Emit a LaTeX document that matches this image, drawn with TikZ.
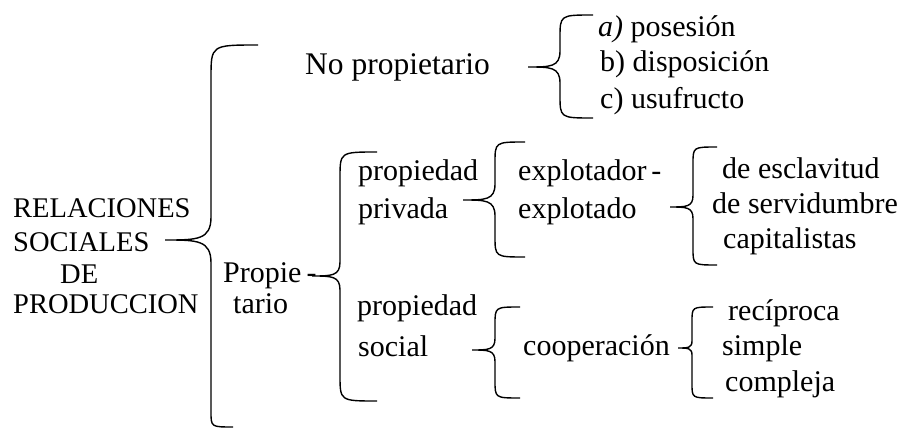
\documentclass[tikz,border=0pt]{standalone}
\usepackage{fontspec}
\setmainfont{Liberation Serif}
\usepackage{tikz}
\usetikzlibrary{calc,positioning}
\tikzset{texto/.style={anchor=base west,inner sep=0pt,font=\fontsize{30}{36}\selectfont},
  titulo/.style={texto,font=\fontsize{28.5}{34}\selectfont}}
% brace: tip x, tip y, line x, top end x, top y, bottom y, bottom end x
\newcommand{\llave}[7]{%
\draw[line width=1.4pt] (#4,#5) .. controls (#3,#5) .. (#3,{#5+0.7*(#4-#3)})
  -- (#3,{#2-0.5*(#3-#1)}) .. controls (#3,#2) and ({#3-0.3*(#3-#1)},#2) .. (#1,#2)
  .. controls ({#3-0.3*(#3-#1)},#2) and (#3,#2) .. (#3,{#2+0.5*(#3-#1)})
  -- (#3,{#6-0.7*(#7-#3)}) .. controls (#3,#6) .. (#7,#6);}

\begin{document}
\begin{tikzpicture}[x=1pt,y=-1pt]
% ==========================================
\useasboundingbox (0,0) rectangle (903,428);
%
\node[titulo] (rel) at (13,217) {RELACIONES};
\node[titulo] (soc) at (13,251) {SOCIALES};
\node[titulo] (de) at (60,283) {DE};
\node[titulo] (prod) at (13,313) {PRODUCCION};
\llave{165}{240}{211}{258}{45}{427}{233};%Main brace.
%
\node[texto,font=\fontsize{31.5}{36}\selectfont] (noprop) at (305,75) {No propietario};
\llave{528}{67}{560}{593}{15}{118}{593};
\node[texto] (posesion) at (598,37) {\textit{a)} posesión};
\node[texto] (disposicion) at (600,72) {b) disposición};
\node[texto] (usufructo) at (600,108) {c) usufructo};
%
\node[texto] (propie) at (223,282) {Propie\,-};
\node[texto] (tario) at (233,313) {tario};
\llave{312}{276}{340}{377}{152}{401}{377};
% ==========================================
\node[texto] (propiedad) at (358,180) {propiedad};
\node[texto] (privada) at (358,218) {privada};
\llave{463}{200}{495}{525}{142}{257}{525};
\node[texto] (explotador) at (518,180) {explotador\,-};
\node[texto] (explotado) at (518,218) {explotado};
\llave{670}{207}{693}{717}{147}{265}{717};
\node[texto] (esclavitud) at (722,178) {de esclavitud};
\node[texto] (servidumbre) at (712,213) {de servidumbre};
\node[texto] (capitalistas) at (723,248) {capitalistas};
% ==========================================
\node[texto] (propsoc) at (357,315) {propiedad};
\node[texto] (social) at (358,356) {social};
\llave{472}{350}{495}{520}{307}{398}{520};
\node[texto] (cooperacion) at (523,355) {cooperación};
\llave{678}{348}{692}{713}{307}{398}{713};
\node[texto] (reciproca) at (728,320) {recíproca};
\node[texto] (simple) at (722,355) {simple};
\node[texto] (compleja) at (725,391) {compleja};
% =============================================
\end{tikzpicture}
\end{document}
